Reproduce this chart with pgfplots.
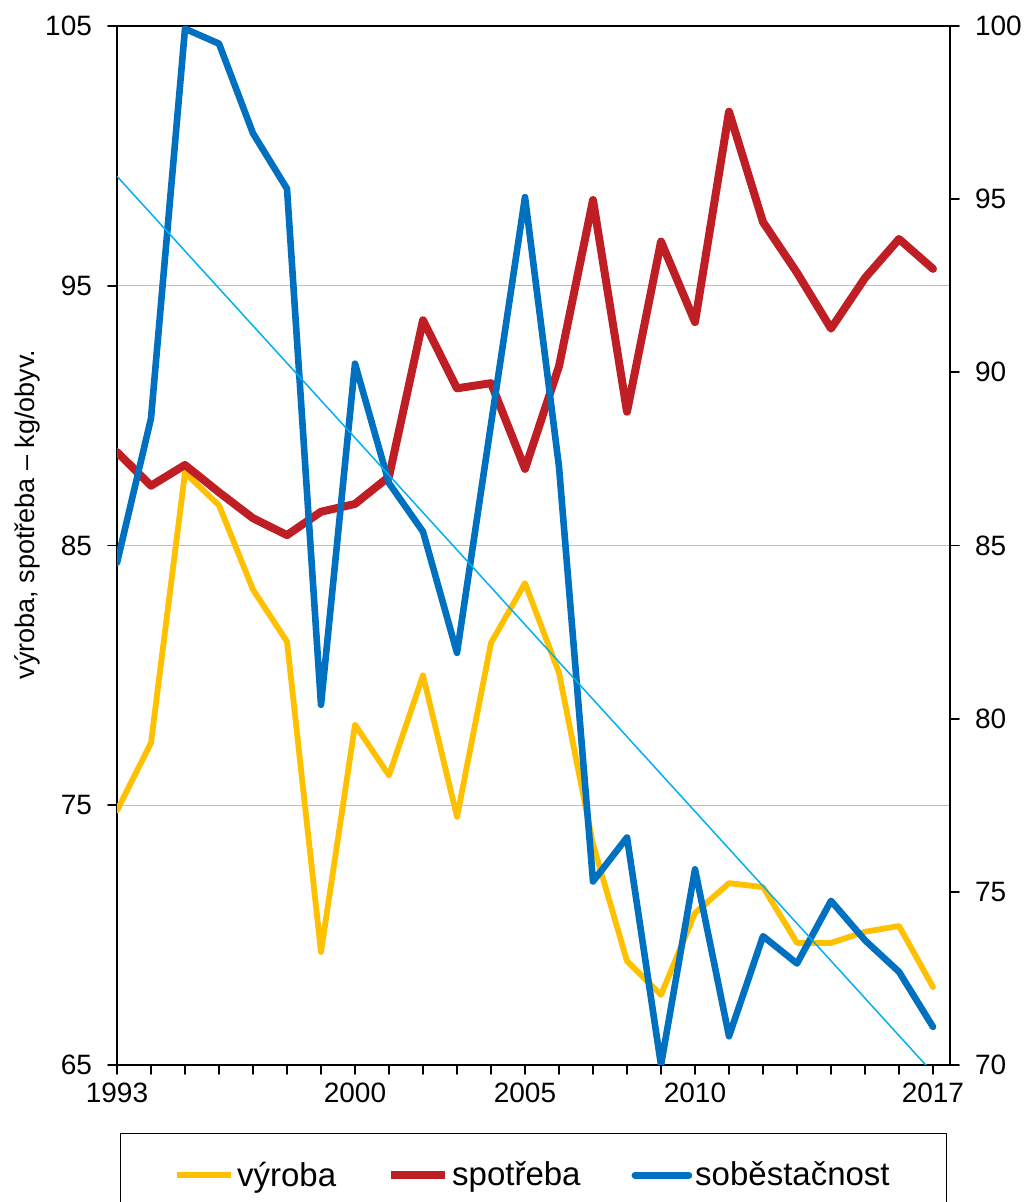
\documentclass[border=0pt]{standalone}
\usepackage{pgfplots}
\pgfplotsset{compat=1.18}
\usepackage{pgfplotstable}
\usepackage{fontspec}
\setmainfont{Liberation Sans}
\definecolor{cyel}{RGB}{255,192,0}
\definecolor{cred}{RGB}{192,30,37}
\definecolor{cblue}{RGB}{0,112,192}
\definecolor{ctrend}{RGB}{0,176,240}
\definecolor{cgrid}{RGB}{191,191,191}

\pgfplotstableread{
year vyroba spotreba sobest
1993 74.8  88.6  84.5
1994 77.4  87.3  88.67
1995 87.8  88.1  99.92
1996 86.55 87.05 99.49
1997 83.3  86.05 96.9
1998 81.3  85.4  95.3
1999 69.35 86.3  80.4
2000 78.1  86.6  90.25
2001 76.15 87.65 86.8
2002 80.0  93.67 85.4
2003 74.55 91.05 81.9
2004 81.25 91.25 88.5
2005 83.55 87.95 95.06
2006 80.1  91.9  87.27
2007 73.5  98.3  75.3
2008 69.0  90.15 76.57
2009 67.7  96.7  70.0
2010 70.85 93.6  75.65
2011 72.0  101.7 70.83
2012 71.85 97.45 73.72
2013 69.7  95.5  72.93
2014 69.7  93.35 74.74
2015 70.13 95.3  73.6
2016 70.35 96.8  72.69
2017 68.0  95.65 71.1
}\datatable

\pgfplotstableread{
year trend
1993 95.66
2017 69.77
}\trendtable

\begin{document}
\begin{tikzpicture}
\pgfplotsset{
  common/.style={
    scale only axis,
    width=416.5pt, height=519.5pt,
    xmin=1993, xmax=2017.5,
    tick align=outside,
    major tick length=4.5pt,
    minor tick length=4.5pt,
    every tick/.style={black, line width=0.9pt},
    axis line style={black, line width=0.9pt},
    tick label style={font=\fontsize{14}{16.5}\selectfont},
    /pgf/number format/assume math mode=true,
    /pgf/number format/1000 sep={},
  },
}
\begin{axis}[
  common,
  ymin=65, ymax=105,
  ytick={65,75,85,95,105},
  xtick={1993,...,2017},
  xticklabels={1993,,,,,,,2000,,,,,2005,,,,,2010,,,,,,,2017},
  xtick pos=left, ytick pos=left,
  ymajorgrids,
  grid style={cgrid, line width=0.75pt},
  yticklabel style={xshift=-4.5pt},
  xticklabel style={yshift=-1pt},
  ylabel={výroba, spotřeba – kg/obyv.},
  every axis y label/.style={at={(axis description cs:-0.108,0.53)}, rotate=90, anchor=center, font=\fontsize{13.5}{16}\selectfont},
  legend columns=3,
  legend style={
    at={(axis description cs:0.5,-0.0654)}, anchor=north,
    draw=black, line width=0.75pt,
    inner xsep=27pt, inner ysep=12pt,
    font=\fontsize{16.5}{19.5}\selectfont,
    /tikz/every even column/.append style={column sep=24pt},
    nodes={inner xsep=1.5pt},
  },
  legend image code/.code={\draw[#1] (0pt,0pt) -- (27pt,0pt);},
  line join=round, line cap=round,
]
\coordinate (SW) at (rel axis cs:0,0);
\coordinate (NE) at (rel axis cs:1,1);
\addplot[cyel, line width=2.9pt] table[x=year, y=vyroba] {\datatable};
\addlegendentry{výroba}
\addplot[cred, line width=4pt] table[x=year, y=spotreba] {\datatable};
\addlegendentry{spotřeba}
\addlegendimage{cblue, line width=3.3pt, line cap=round}
\addlegendentry{soběstačnost}
\end{axis}
\begin{axis}[
  common,
  ymin=70, ymax=100,
  ytick={70,75,...,100},
  axis y line*=right,
  axis x line=none,
  yticklabel style={xshift=4.5pt},
  line join=round, line cap=round,
]
\addplot[cblue, line width=3.3pt] table[x=year, y=sobest] {\datatable};
\addplot[ctrend, line width=0.75pt] table[x=year, y=trend] {\trendtable};
\end{axis}
\pgfresetboundingbox
\path[use as bounding box] ([xshift=-58.5pt,yshift=-68.5pt]SW) rectangle ([xshift=39pt,yshift=13pt]NE);
\end{tikzpicture}
\end{document}
